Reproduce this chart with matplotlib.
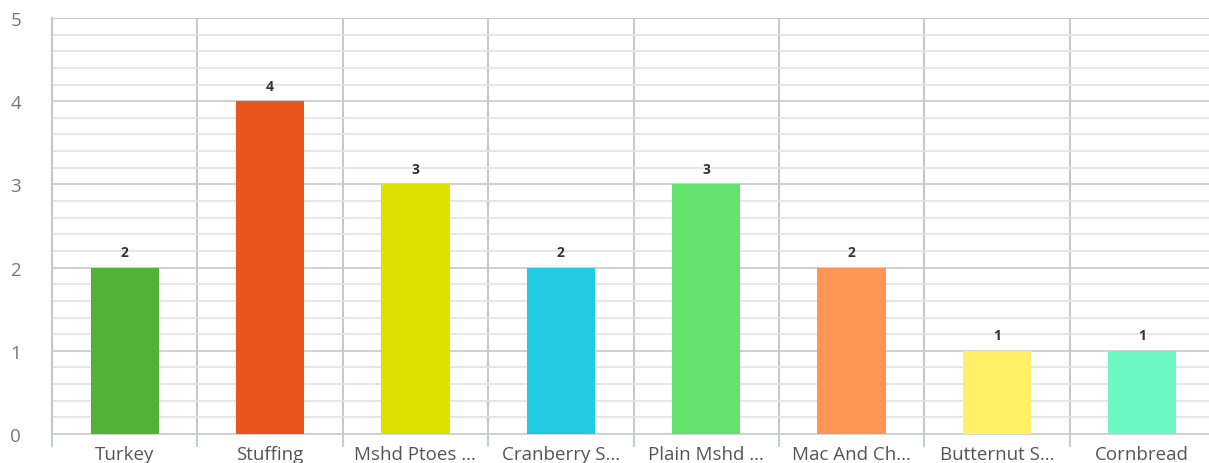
import numpy as np
import matplotlib.pyplot as plt
from matplotlib.ticker import MultipleLocator

# data
dishes = ["Turkey", "Stuffing", "Mshd Ptoes ...", "Cranberry S...", "Plain Mshd ...",
          "Mac And Ch...", "Butternut S...", "Cornbread"]
votes = [2, 4, 3, 2, 3, 2, 1, 1]
bar_colors = ["#52b236", "#e8561c", "#dde000", "#22cbe3", "#63e36e",
              "#ff9554", "#fff066", "#6cf7c3"]

plt.rcParams['font.family'] = ['Open Sans', 'DejaVu Sans']

fig = plt.figure(figsize=(12.09, 4.64), dpi=100)
# axes run a little past the right edge like the original
ax = fig.add_axes([52 / 1209, 1 - 435 / 464, 1163 / 1209, 416 / 464])

x = np.arange(len(dishes))
ax.bar(x, votes, width=0.47, color=bar_colors, zorder=3)
for xi, v in zip(x, votes):
    ax.text(xi, v + 0.1, str(v), ha='center', va='bottom', fontsize=10,
            fontweight='bold', color='#333333', zorder=4)

ax.set_xlim(-0.5, len(dishes) - 0.5)
ax.set_ylim(0, 5)

ax.yaxis.set_major_locator(MultipleLocator(1))
ax.yaxis.set_minor_locator(MultipleLocator(0.2))
ax.set_xticks(x)
ax.set_xticklabels(dishes)
ax.set_xticks(np.arange(len(dishes) + 1) - 0.5, minor=True)

ax.grid(which='major', axis='y', color='#c8c8c8', linewidth=1.2, zorder=0)
ax.grid(which='minor', axis='y', color='#e2e2e2', linewidth=1.2, zorder=0)
ax.grid(which='minor', axis='x', color='#c8c8c8', linewidth=1.5, zorder=1)

ax.tick_params(axis='x', which='major', length=0, pad=8, labelsize=13.5, labelcolor='#555555')
ax.tick_params(axis='x', which='minor', length=9, width=1.5, color='#c8ccd4', direction='out')
ax.tick_params(axis='y', which='both', length=0, pad=30, labelsize=13.5, labelcolor='#777777')
for lbl in ax.get_yticklabels():
    lbl.set_horizontalalignment('left')

for side in ['top', 'right']:
    ax.spines[side].set_visible(False)
ax.spines['left'].set_color('#c8c8c8')
ax.spines['left'].set_linewidth(1.5)
ax.spines['bottom'].set_color('#c8ccd4')
ax.spines['bottom'].set_linewidth(1.2)

# top border line
ax.axhline(5, color='#c8c8c8', linewidth=1.2, zorder=1)

fig.savefig('out.png', dpi=100)
